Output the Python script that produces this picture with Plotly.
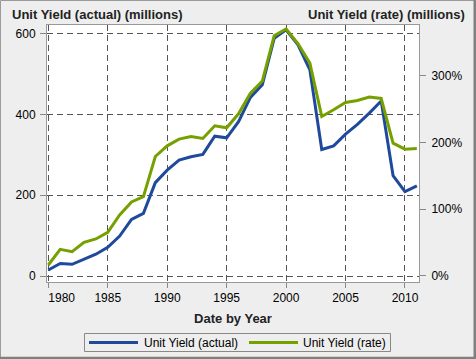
import plotly.graph_objects as go

years = list(range(1980, 2012))
actual = [15, 31, 29, 42, 54, 71, 99, 140, 155, 231, 262, 287, 295, 301, 346, 342,
          382, 442, 473, 588, 609, 572, 510, 313, 322, 351, 375, 403, 433, 248, 209, 223]
rate = [16.5, 40, 36.5, 50.5, 55.5, 65.5, 91.5, 111, 119, 179, 195, 205, 209, 206, 225, 222,
        243, 274, 292, 360, 370, 348, 319, 239, 249, 260, 263, 268, 266, 199, 190, 191]
x_ticks = [1980, 1985, 1990, 1995, 2000, 2005, 2010]
x_labels = ["1980", "1985", "1990", "1995", "2000", "2005", "2010"]
y_ticks = [0, 200, 400, 600]
y2_ticks = [0, 100, 200, 300]
y2_labels = ["0%", "100%", "200%", "300%"]
series_names = ["Unit Yield (actual)", "Unit Yield (rate)"]

W, H = 476, 359
L, R, T, B = 47, 57, 25, 77
PW, PH = W - L - R, H - T - B

def px(xp):
    return (xp - L) / PW

def py(yp):
    return (H - B - yp) / PH

FONT = "Liberation Sans, Arial, sans-serif"
BLUE = "#1F4A9C"
GREEN = "#76A000"
BG = "#EEEEEE"
COLORS = [BLUE, GREEN]

# first year label is pushed right (inside the frame) as in the reference
x_text = ["\u00a0" * 8 + x_labels[0]] + x_labels[1:]

fig = go.Figure()
fig.add_trace(go.Scatter(x=years, y=actual, mode="lines", name=series_names[0],
                         line=dict(color=BLUE, width=3), yaxis="y", showlegend=False))
fig.add_trace(go.Scatter(x=years, y=rate, mode="lines", name=series_names[1],
                         line=dict(color=GREEN, width=3), yaxis="y2", showlegend=False))

grid = dict(showgrid=True, gridcolor="#555555", gridwidth=1, griddash="6px,4px")

shapes = [
    # outer frame
    dict(type="rect", xref="paper", yref="paper", x0=px(0.5), x1=px(475.5), y0=py(0.5), y1=py(358.5),
         line=dict(color="#9A9A9A", width=1), layer="above"),
    dict(type="rect", xref="paper", yref="paper", x0=px(473.5), x1=px(476), y0=py(0), y1=py(359),
         line=dict(width=0), fillcolor="#808080", layer="above"),
    dict(type="rect", xref="paper", yref="paper", x0=px(0), x1=px(476), y0=py(356.7), y1=py(359),
         line=dict(width=0), fillcolor="#808080", layer="above"),
    # legend box
    dict(type="rect", xref="paper", yref="paper", x0=px(84.5), x1=px(390.5), y0=py(333.5), y1=py(351.5),
         line=dict(color="#888888", width=1), fillcolor=BG, layer="above"),
]
annotations = [
    dict(text="<b>Unit Yield (actual) (millions)</b>", xref="paper", yref="paper",
         x=px(10), y=py(15), xanchor="left", yanchor="middle", showarrow=False,
         font=dict(size=13, color="#222222")),
    dict(text="<b>Unit Yield (rate) (millions)</b>", xref="paper", yref="paper",
         x=px(467), y=py(15), xanchor="right", yanchor="middle", showarrow=False,
         font=dict(size=13, color="#222222")),
]
legend_line_x = [(89, 138), (249, 298)]
legend_text_x = [143, 302]
for i in range(2):
    x0, x1 = legend_line_x[i]
    shapes.append(dict(type="line", xref="paper", yref="paper", x0=px(x0), x1=px(x1),
                       y0=py(342.5), y1=py(342.5), line=dict(color=COLORS[i], width=3), layer="above"))
    annotations.append(dict(text=series_names[i], xref="paper", yref="paper",
                            x=px(legend_text_x[i] - 1), y=py(342.5), xanchor="left", yanchor="middle",
                            showarrow=False, font=dict(size=12, color="#000000")))

fig.update_layout(
    width=W, height=H,
    margin=dict(l=L, r=R, t=T, b=B, pad=0),
    paper_bgcolor=BG, plot_bgcolor="white",
    font=dict(family=FONT, size=12, color="#000000"),
    showlegend=False,
    xaxis=dict(range=[1979.89, 2011.18], tickvals=x_ticks, ticktext=x_text, ticks="outside", ticklen=5,
               tickcolor="#888888", showline=True, linecolor="#999999", mirror=True,
               zeroline=False,
               title=dict(text="<b>Date by Year</b>", font=dict(size=13, color="#222222"), standoff=9),
               **grid),
    yaxis=dict(range=[-14.8, 621], tickvals=y_ticks, ticks="outside", ticklen=6,
               tickcolor="#888888", showline=True, linecolor="#999999", mirror=True,
               zeroline=False, ticklabelstandoff=2, **grid),
    yaxis2=dict(range=[-9, 376], tickvals=y2_ticks, ticktext=y2_labels, ticks="outside", ticklen=6,
                tickcolor="#888888", overlaying="y", side="right", showgrid=False,
                zeroline=False, showline=True, linecolor="#999999", ticklabelstandoff=3),
    annotations=annotations,
    shapes=shapes,
)

fig.write_html("out.html", config={"displayModeBar": False},
               post_script="document.body.style.margin='0';document.body.style.overflow='hidden';")
